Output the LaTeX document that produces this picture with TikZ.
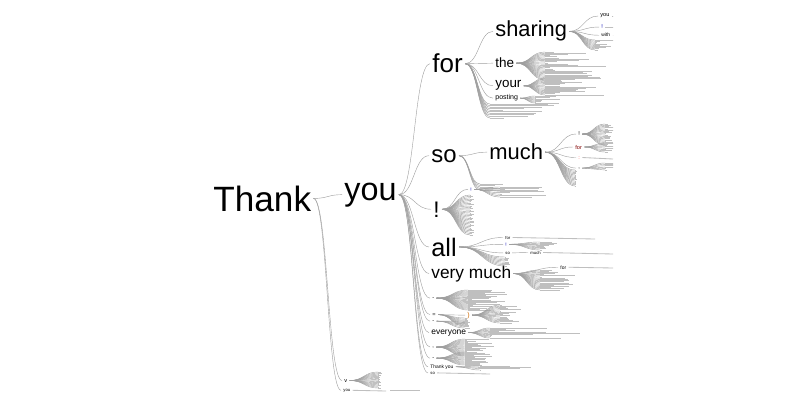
\documentclass[tikz,border=0pt]{standalone}
\usepackage{fontspec}
\setmainfont{Liberation Sans}
\usetikzlibrary{calc}

% sigmoid connector, control points half way in x
\newcommand\twig[3][]{%
  \draw[twig,#1] let \p1=(#2), \p2=(#3) in
    (\p1) .. controls ({(\x1+\x2)/2},\y1) and ({(\x1+\x2)/2},\y2) .. (\p2);}
% fan: #1 from, #2 name, #3 x end, #4 y top, #5 y bottom, #6 count, #7 bar length
\newcommand\fan[7]{%
  \foreach \k in {1,...,#6}{%
    \pgfmathsetmacro\yk{#4+(#5-#4)*(\k-1)/(#6-1)}%
    \pgfmathsetmacro\xk{#3+rnd*#7}%
    \coordinate (#2-\k) at (#3,\yk);
    \twig{#1}{#2-\k}
    \draw[bar] (#2-\k) -- (\xk,\yk);
  }}

\begin{document}
\begin{tikzpicture}[
  x=0.025cm, y=-0.025cm,
  % --- node styles ---
  w/.style={anchor=base west, inner xsep=1.5pt, inner ysep=0pt,
            font=\fontsize{#1pt}{#1pt}\selectfont},
  twig/.style={gray!75, line width=0.3pt},
  bar/.style={gray!50, line width=0.6pt},
]
  \useasboundingbox (0,0) rectangle (800,400);
  \pgfmathsetseed{11}

  \begin{scope}
  \clip (0,0) rectangle (613,400);

  % --- Root and first level ---
  \node[w=25] (thank) at (211,211) {Thank};
  \node[w=23] (you)   at (342,200) {you};
  \node[w=4]  (v)     at (342,382) {v};
  \node[w=3]  (you2)  at (341,391) {you};

  % --- Children of "you" ---
  \node[w=18.5] (for)      at (430,73)  {for};
  \node[w=17]   (so)       at (429,162) {so};
  \node[w=16]   (bang)     at (431,217) {!};
  \node[w=18]   (all)      at (429,256) {all};
  \node[w=12.3] (verymuch) at (429,278) {very much};
  \node[w=4]    (dasha)    at (430,299) {-};
  \node[w=4]    (eqa)      at (430,316) {=};
  \node[w=4]    (dashb)    at (430,322) {-};
  \node[w=6]    (everyone) at (429,334) {everyone};
  \node[w=4]    (comma)    at (430,347) {,};
  \node[w=4]    (dashc)    at (430,359) {-};
  \node[w=3.5]  (thankyou) at (428,368) {Thank you};
  \node[w=3]    (so2)      at (428,374) {so};

  % --- "for" subtree ---
  \node[w=15.5] (sharing) at (493,37)  {sharing};
  \node[w=9.6]  (the)     at (493,68)  {the};
  \node[w=9.5]  (your)    at (493,88)  {your};
  \node[w=5]    (posting) at (493,100) {posting};
  \node[w=4]    (syou)    at (598,17)  {you};
  \node[w=4, text=blue!70!black] (sbang) at (599,29) {!};
  \node[w=3.5]  (swith)   at (599,37)  {with};

  % --- "so" subtree ---
  \node[w=15.6] (much)   at (487,160) {much};
  \node[w=4]    (mbang)  at (576,136) {!};
  \node[w=4, text=red!50!black] (mfor) at (573,149) {for};
  \node[w=4, text=red!70] (mcolon) at (576,159) {:};
  \node[w=4]    (mcomma) at (576,168) {,};

  % --- "!" / "all" / "very much" subtrees ---
  \node[w=3.5, text=blue!70!black] (bbang) at (468,191) {!};
  \node[w=3]    (afor)   at (503,239) {for};
  \node[w=3.5, text=blue!70!black] (abang) at (503,246) {!};
  \node[w=3]    (aso)    at (503,254) {so};
  \node[w=3]    (amuch)  at (528,254) {much};
  \node[w=3.5]  (vfor)   at (558,269) {for};
  \node[w=5, text=orange!80!black] (paren) at (465,317) {)};

  % --- Connectors from the root ---
  \twig{thank.east}{you.west}
  \twig{thank.east}{v.west}
  \twig{thank.east}{you2.west}
  \fan{v.east}{vf}{378}{372}{388}{16}{4}
  \draw[bar] (you2.east) -- (386,391);
  \draw[bar] (390,390) -- (420,390);

  % --- Connectors from "you" ---
  \foreach \c in {for,so,bang,all,verymuch,dasha,eqa,dashb,everyone,comma,dashc,thankyou,so2}
    \twig{you.east}{\c.west};

  % --- "for" ---
  \foreach \c in {sharing,the,your,posting}
    \twig{for.east}{\c.west};
  \fan{for.east}{fr}{490}{104}{118}{10}{70}
  \foreach \c in {syou,sbang,swith}{
    \twig{sharing.east}{\c.west}
    \draw[bar] (\c.east) -- +(25,0);
  }
  \fan{sharing.east}{sh}{595}{40}{50}{10}{20}
  \fan{the.east}{th}{545}{52}{80}{24}{70}
  \fan{your.east}{yr}{545}{78}{95}{16}{65}
  \fan{posting.east}{po}{535}{96}{103}{8}{30}

  % --- "so" ---
  \twig{so.east}{much.west}
  \fan{so.east}{sr}{480}{184}{190}{5}{75}
  \foreach \c in {mbang,mfor,mcolon,mcomma}
    \twig{much.east}{\c.west};
  \fan{much.east}{mr}{575}{170}{186}{14}{2}
  \fan{mbang.east}{mb}{605}{124}{145}{18}{10}
  \fan{mfor.east}{mf}{605}{143}{152}{8}{10}
  \draw[bar] (mcolon.east) -- (613,159);
  \fan{mcomma.east}{mc}{605}{163}{170}{6}{10}

  % --- "!" ---
  \twig{bang.east}{bbang.west}
  \fan{bang.east}{bg}{470}{195}{235}{30}{5}
  \fan{bbang.east}{bb}{500}{187}{197}{8}{60}

  % --- "all" ---
  \foreach \c in {afor,abang,aso}
    \twig{all.east}{\c.west};
  \fan{all.east}{al}{505}{257}{266}{8}{5}
  \draw[bar] (afor.east) -- (595,239);
  \fan{abang.east}{ab}{540}{242}{250}{8}{20}
  \twig{aso.east}{amuch.west}
  \draw[bar] (amuch.east) -- (613,254);

  % --- "very much" ---
  \twig{verymuch.east}{vfor.west}
  \draw[bar] (vfor.east) -- (613,268);
  \fan{verymuch.east}{vm}{540}{270}{290}{18}{35}

  % --- lower small branches ---
  \fan{dasha.east}{da}{468}{290}{310}{22}{40}
  \twig{eqa.east}{paren.west}
  \fan{eqa.east}{eq}{465}{318}{326}{8}{5}
  \fan{paren.east}{pa}{500}{305}{323}{16}{25}
  \fan{dashb.east}{db}{465}{321}{328}{6}{5}
  \fan{everyone.east}{ev}{490}{328}{338}{10}{95}
  \fan{comma.east}{cm}{465}{339}{356}{18}{30}
  \fan{dashc.east}{dc}{465}{352}{365}{14}{30}
  \fan{thankyou.east}{ty}{480}{366}{370}{4}{100}
  \draw[bar] (so2.east) -- (490,374);
  \end{scope}
\end{tikzpicture}
\end{document}
